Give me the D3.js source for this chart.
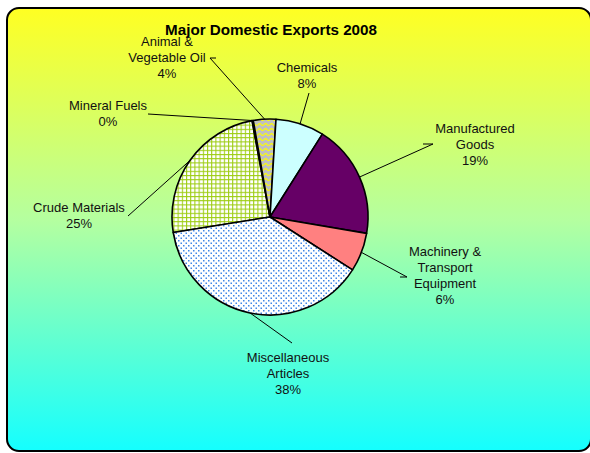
<!DOCTYPE html>
<html>
<head>
<meta charset="utf-8">
<title>Major Domestic Exports 2008</title>
<script src="https://cdn.jsdelivr.net/npm/d3@7/dist/d3.min.js"></script>
<style>
	html, body { margin: 0; padding: 0; background: #fff; }
	svg { display: block; font-family: "Liberation Sans", Arial, sans-serif; }
</style>
</head>
<body>
<div id="chart"></div>
<script>

var categories = ["Crude Materials", "Mineral Fuels", "Animal & Vegetable Oil", "Chemicals", "Manufactured Goods", "Machinery & Transport Equipment", "Miscellaneous Articles"];
var shares = [24.6, 0.2, 3.7, 8.0, 18.7, 6.4, 38.4];
var labelLines = [
	["Crude Materials"],
	["Mineral Fuels"],
	["Animal &", "Vegetable Oil"],
	["Chemicals"],
	["Manufactured", "Goods"],
	["Machinery &", "Transport", "Equipment"],
	["Miscellaneous", "Articles"]
];

// fills per slice (patterns defined below)
var fills = ["url(#pat-grid)", "#ffffff", "url(#pat-wave)", "#ccffff", "#660066", "#ff8080", "url(#pat-dots)"];

// label placement: centre x, first baseline, leader start, optional tick end
var labelPos = [
	{ x: 79, y: 212, lx: 128, ly: 216 },
	{ x: 108, y: 110, lx: 148, ly: 114 },
	{ x: 167, y: 46, lx: 210, ly: 58, tx: 216 },
	{ x: 307, y: 72, lx: 309, ly: 93 },
	{ x: 475, y: 133, lx: 433, ly: 144, tx: 423 },
	{ x: 445, y: 256, lx: 407, ly: 277, tx: 400 },
	{ x: 288, y: 362, lx: 292, ly: 343 }
];

var W = 590, H = 453;
var cx = 270, cy = 217, radius = 98;
var lineGap = 16;

var svg = d3.select("#chart").append("svg")
	.attr("width", W)
	.attr("height", H);

var defs = svg.append("defs");

// background gradient, yellow to aqua
var grad = defs.append("linearGradient")
	.attr("id", "bg")
	.attr("x1", 0).attr("y1", 0)
	.attr("x2", 0).attr("y2", 1);
grad.append("stop").attr("offset", "0%").attr("stop-color", "#ffff22");
grad.append("stop").attr("offset", "48%").attr("stop-color", "#b4ffa0");
grad.append("stop").attr("offset", "100%").attr("stop-color", "#14ffff");

// crude materials: green grid on white
var pg = defs.append("pattern")
	.attr("id", "pat-grid")
	.attr("patternUnits", "userSpaceOnUse")
	.attr("width", 4.2).attr("height", 4.2);
pg.append("rect").attr("width", 4.2).attr("height", 4.2).attr("fill", "#ffffff");
pg.append("path")
	.attr("d", "M0,0.5 H4.2 M0.5,0 V4.2")
	.attr("stroke", "#9ccc10")
	.attr("stroke-width", 1.1);

// animal & vegetable oil: yellow waves on grey
var pw = defs.append("pattern")
	.attr("id", "pat-wave")
	.attr("patternUnits", "userSpaceOnUse")
	.attr("width", 6).attr("height", 5);
pw.append("rect").attr("width", 6).attr("height", 5).attr("fill", "#c0c0c0");
pw.append("path")
	.attr("d", "M0,3 Q1.5,0.5 3,2.5 T6,2.5")
	.attr("fill", "none")
	.attr("stroke", "#ffff00")
	.attr("stroke-width", 1.1);

// miscellaneous: blue dots on white
var pd = defs.append("pattern")
	.attr("id", "pat-dots")
	.attr("patternUnits", "userSpaceOnUse")
	.attr("width", 5).attr("height", 5);
pd.append("rect").attr("width", 5).attr("height", 5).attr("fill", "#ffffff");
pd.append("rect").attr("x", 0.5).attr("y", 0.5).attr("width", 1.5).attr("height", 1.5).attr("fill", "#3f86e6");
pd.append("rect").attr("x", 3).attr("y", 3).attr("width", 1.5).attr("height", 1.5).attr("fill", "#3f86e6");

// chart area frame
svg.append("rect")
	.attr("x", 7).attr("y", 8)
	.attr("width", 584).attr("height", 443)
	.attr("rx", 12).attr("ry", 12)
	.attr("fill", "url(#bg)")
	.attr("stroke", "#000")
	.attr("stroke-width", 2);

svg.append("text")
	.attr("x", 271).attr("y", 35)
	.attr("text-anchor", "middle")
	.attr("font-size", "15.2px")
	.attr("font-weight", "bold")
	.attr("fill", "#000")
	.text("Major Domestic Exports 2008");

var toRad = Math.PI / 180;
var pie = d3.pie()
	.sort(null)
	.value(function(d) { return d; })
	.startAngle(-99.1 * toRad)
	.endAngle(260.9 * toRad);

var arcs = pie(shares);
var arc = d3.arc().innerRadius(0).outerRadius(radius);

var g = svg.append("g").attr("transform", "translate(" + cx + "," + cy + ")");

g.selectAll("path.slice")
	.data(arcs)
	.enter().append("path")
	.attr("class", "slice")
	.attr("d", arc)
	.attr("fill", function(d, i) { return fills[i]; })
	.attr("stroke", "#000")
	.attr("stroke-width", 1.6)
	.attr("stroke-linejoin", "round");

// leader lines from label to the slice edge
arcs.forEach(function(d, i) {
	var p = labelPos[i];
	var mid = (d.startAngle + d.endAngle) / 2;
	var ex = cx + Math.sin(mid) * radius;
	var ey = cy - Math.cos(mid) * radius;
	var pts = [];
	if (p.tx !== undefined) {
		pts.push([p.tx, p.ly]);
	}
	pts.push([p.lx, p.ly]);
	pts.push([ex, ey]);
	svg.append("path")
		.attr("d", d3.line()(pts))
		.attr("fill", "none")
		.attr("stroke", "#000")
		.attr("stroke-width", 1);
});

// labels
arcs.forEach(function(d, i) {
	var p = labelPos[i];
	var lines = labelLines[i].concat([Math.round(shares[i]) + "%"]);
	var t = svg.append("text")
		.attr("text-anchor", "middle")
		.attr("font-size", "13px")
		.attr("fill", "#111");
	lines.forEach(function(s, k) {
		t.append("tspan")
			.attr("x", p.x)
			.attr("y", p.y + k * lineGap)
			.text(s);
	});
});

</script>
</body>
</html>
